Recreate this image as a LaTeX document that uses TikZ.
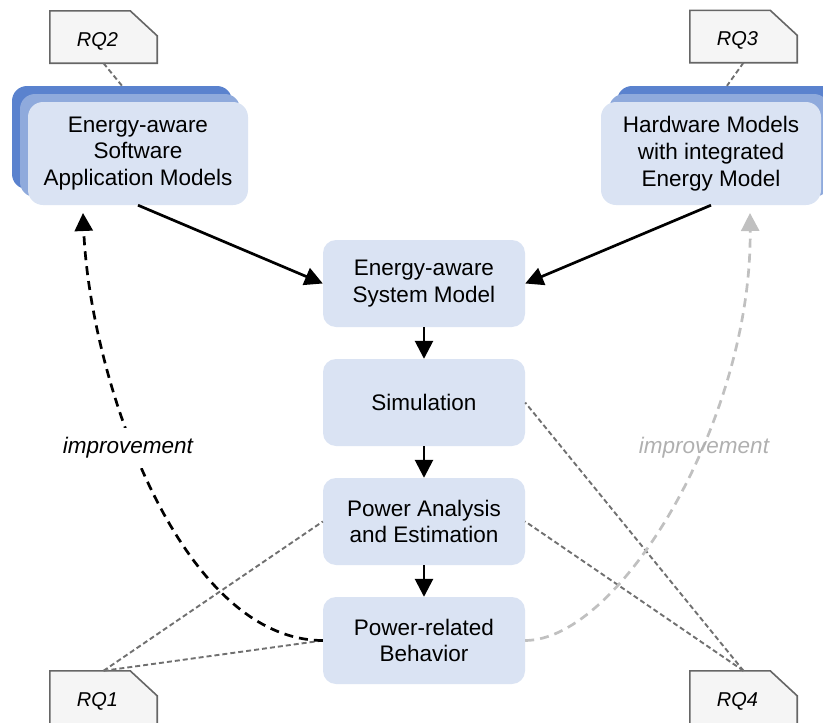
\documentclass[tikz,border=0pt]{standalone}
\usepackage{fontspec}
\setmainfont{Liberation Sans}
\usetikzlibrary{arrows.meta,backgrounds}

\definecolor{boxfill}{HTML}{DAE3F3}
\definecolor{layermid}{HTML}{8FAADC}
\definecolor{layerback}{HTML}{5A82CE}
\definecolor{notefill}{HTML}{F5F5F5}
\definecolor{notedraw}{HTML}{666666}
\definecolor{rqline}{HTML}{707070}
\definecolor{paleline}{HTML}{C0C0C0}
\definecolor{paletext}{HTML}{B0B0B0}

\begin{document}
\begin{tikzpicture}[x=1pt,y=-1pt,
  boxtext/.style={font=\fontsize{22.5}{26.7}\selectfont, align=center},
  stage/.style={boxtext, fill=boxfill, rounded corners=13pt,
    minimum width=202pt, minimum height=87pt, inner sep=0pt},
  model/.style={boxtext, fill=boxfill, rounded corners=15pt,
    minimum width=220pt, minimum height=103pt, inner sep=0pt},
  layer/.style={rounded corners=15pt, minimum width=220pt,
    minimum height=103pt, inner sep=0pt},
  rq/.style={minimum width=107pt, minimum height=52pt, inner sep=0pt,
    text height=22pt, font=\fontsize{20}{24}\selectfont\itshape},
  noteshape/.style={fill=notefill, draw=notedraw, line width=1.6pt},
  flow/.style={line width=2.7pt, -{Triangle[length=18pt,width=18pt]}},
  feedback/.style={line width=2.7pt, dash pattern=on 9pt off 6pt,
    -{Triangle[length=18pt,width=18pt]}},
  rqlink/.style={draw=rqline, line width=1.9pt, dash pattern=on 5pt off 3pt},
  lbl/.style={font=\fontsize{22.5}{26.7}\selectfont\itshape}
]
\useasboundingbox (0,0) rectangle (823,723);

% stacked model boxes
\node[layer, fill=layerback] (swB) at (122,137.5) {};
\node[layer, fill=layermid]  (swM) at (130,145.5) {};
\node[model] (sw) at (138,153.5) {Energy-aware\\Software\\Application Models};

\node[layer, fill=layerback] (hwB) at (727,137.5) {};
\node[layer, fill=layermid]  (hwM) at (719,145.5) {};
\node[model] (hw) at (711,153.5) {Hardware Models\\with integrated\\Energy Model};

% main flow
\node[stage] (sys) at (424,283.5) {Energy-aware\\System Model};
\node[stage] (sim) at (424,402.5) {Simulation};
\node[stage] (pa)  at (424,521.5) {Power Analysis\\and Estimation};
\node[stage] (pr)  at (424,640.5) {Power-related\\Behavior};

% research question notes
\node[rq] (rq2) at (103.5,37)  {RQ2\hspace*{12pt}};
\node[rq] (rq3) at (743.5,36.5){RQ3\hspace*{12pt}};
\node[rq] (rq1) at (103.5,697) {RQ1\hspace*{12pt}};
\node[rq] (rq4) at (743.5,697) {RQ4\hspace*{12pt}};

\begin{scope}[on background layer]
  \foreach \n in {rq2,rq3}{
    \draw[noteshape] (\n.south west) -- (\n.north west)
      -- ([xshift=-27pt]\n.north east) -- ([yshift=-25pt]\n.north east)
      -- (\n.south east) -- cycle;
  }
  % lower notes run past the bottom edge
  \foreach \n in {rq1,rq4}{
    \draw[noteshape] ([yshift=-6pt]\n.south west) -- (\n.north west)
      -- ([xshift=-27pt]\n.north east) -- ([yshift=-25pt]\n.north east)
      -- ([yshift=-6pt]\n.south east) -- cycle;
  }
\end{scope}

% note links
\draw[rqlink] (rq2.south) -- (swB.north);
\draw[rqlink] (rq3.south) -- (hwB.north);
\draw[rqlink] (rq1.north) -- (pa.west);
\draw[rqlink] (rq1.north) -- (pr.west);
\draw[rqlink] (rq4.north) -- (sim.east);
\draw[rqlink] (rq4.north) -- (pa.east);

% arrows
\draw[flow] (sw.south) -- (sys.west);
\draw[flow] (hw.south) -- (sys.east);
\draw[flow] (sys.south) -- (sim.north);
\draw[flow] (sim.south) -- (pa.north);
\draw[flow] (pa.south) -- (pr.north);

% improvement feedback loops
\coordinate (swIn) at (83,213);
\coordinate (hwIn) at (750,213);
\draw[feedback, black] (pr.west) .. controls (180,640) and (90,380) .. (swIn);
\node[lbl, fill=white, inner xsep=2pt, inner ysep=10pt] (impL) at (128,448) {improvement};
\draw[feedback, draw=paleline, color=paleline] (pr.east) .. controls (620,640) and (752,420) .. (hwIn);
\node[lbl, text=paletext] (impR) at (704,448) {improvement};
\end{tikzpicture}
\end{document}
